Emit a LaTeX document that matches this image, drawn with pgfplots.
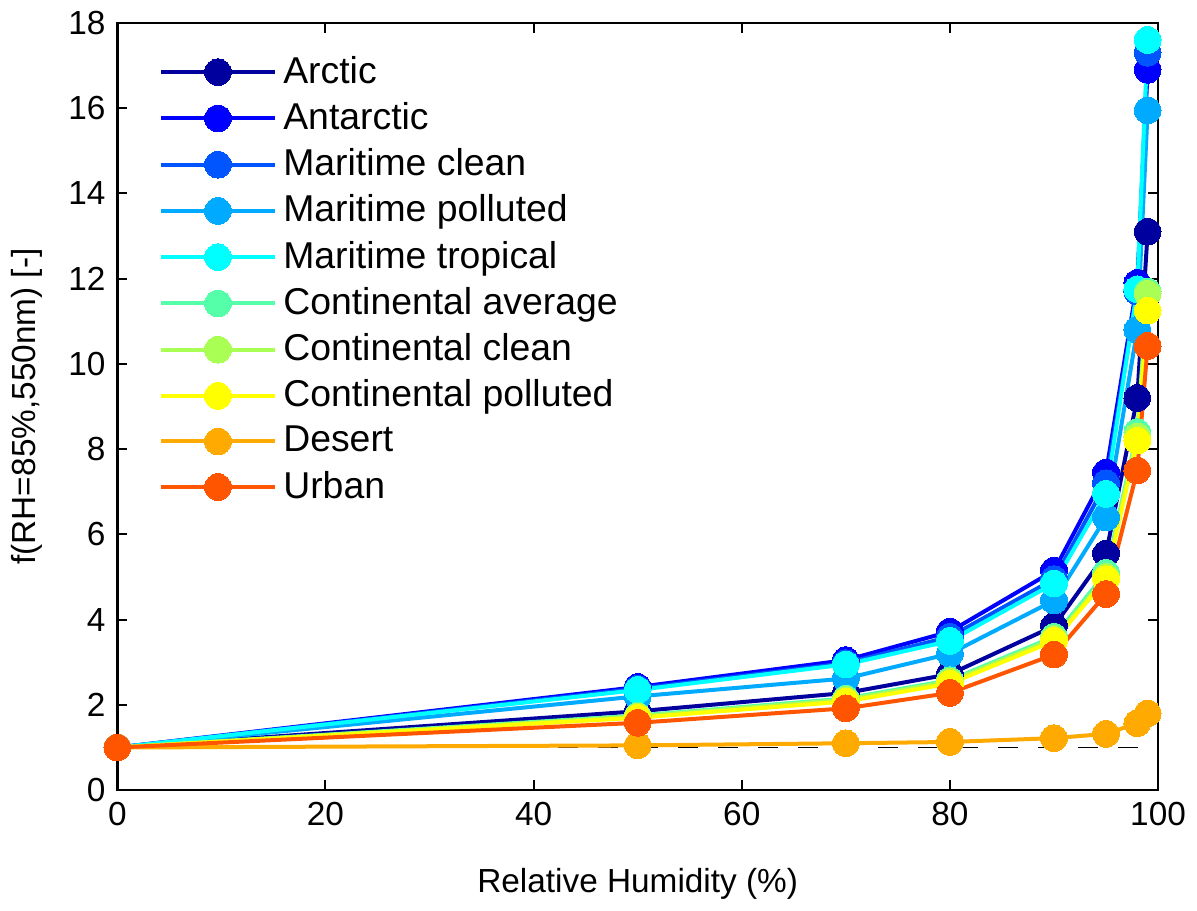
\documentclass[border=0pt]{standalone}
\usepackage{fontspec}
\setmainfont{Liberation Sans}
\usepackage{pgfplots}
\pgfplotsset{compat=1.18}
\definecolor{c1}{rgb}{0,0,0.62}
\definecolor{c2}{rgb}{0,0,1}
\definecolor{c3}{rgb}{0,0.3333,1}
\definecolor{c4}{rgb}{0,0.6667,1}
\definecolor{c5}{rgb}{0,1,1}
\definecolor{c6}{rgb}{0.3333,1,0.6667}
\definecolor{c7}{rgb}{0.6667,1,0.3333}
\definecolor{c8}{rgb}{1,1,0}
\definecolor{c9}{rgb}{1,0.6667,0}
\definecolor{c10}{rgb}{1,0.3333,0}
\begin{document}
\begin{tikzpicture}
\begin{axis}[
  scale only axis,
  width=312pt, height=230pt,
  xmin=0, xmax=100, ymin=0, ymax=18,
  xtick={0,20,...,100}, ytick={0,2,...,18},
  tick align=inside,
  major tick length=3pt,
  axis line style={line width=0.7pt},
  every tick/.style={black, line width=0.6pt},
  /pgf/number format/assume math mode=true,
  tick label style={font=\fontsize{10}{12}\selectfont},
  label style={font=\fontsize{10}{12}\selectfont},
  xlabel={Relative Humidity (\%)},
  ylabel={f(RH=85\%,550nm) [-]},
  xlabel style={yshift=-6pt},
  ylabel style={yshift=1pt},
  legend style={draw=none, fill=none, at={(0.03,0.975)}, anchor=north west,
    font=\fontsize{11.2}{13}\selectfont, row sep=0.25pt,
    /tikz/every even column/.append style={column sep=0pt}},
  legend cell align=left,
  legend image code/.code={%
    \draw[#1, mark repeat=2, mark phase=2] plot coordinates {(0pt,0pt) (17pt,0pt) (34pt,0pt)};},
  every axis plot/.append style={line width=1.2pt, mark=*, mark size=4pt},
]
\addplot[black, dashed, line width=0.5pt, mark=none, dash pattern=on 6pt off 6pt, forget plot] coordinates {(0,1) (98.5,1)};
\addplot[c1, mark options={fill=c1, draw=c1, line width=0pt}] coordinates {(0,1) (50,1.85) (70,2.28) (80,2.72) (90,3.85) (95,5.55) (98,9.2) (99,13.1)};
\addlegendentry{Arctic}
\addplot[c2, mark options={fill=c2, draw=c2, line width=0pt}] coordinates {(0,1) (50,2.42) (70,3.05) (80,3.72) (90,5.15) (95,7.45) (98,11.9) (99,16.9)};
\addlegendentry{Antarctic}
\addplot[c3, mark options={fill=c3, draw=c3, line width=0pt}] coordinates {(0,1) (50,2.38) (70,2.98) (80,3.6) (90,4.95) (95,7.2) (98,11.7) (99,17.3)};
\addlegendentry{Maritime clean}
\addplot[c4, mark options={fill=c4, draw=c4, line width=0pt}] coordinates {(0,1) (50,2.2) (70,2.62) (80,3.2) (90,4.45) (95,6.4) (98,10.8) (99,15.95)};
\addlegendentry{Maritime polluted}
\addplot[c5, mark options={fill=c5, draw=c5, line width=0pt}] coordinates {(0,1) (50,2.35) (70,2.95) (80,3.5) (90,4.85) (95,6.95) (98,11.75) (99,17.6)};
\addlegendentry{Maritime tropical}
\addplot[c6, mark options={fill=c6, draw=c6, line width=0pt}] coordinates {(0,1) (50,1.75) (70,2.15) (80,2.58) (90,3.6) (95,5.1) (98,8.4) (99,11.7)};
\addlegendentry{Continental average}
\addplot[c7, mark options={fill=c7, draw=c7, line width=0pt}] coordinates {(0,1) (50,1.73) (70,2.12) (80,2.55) (90,3.55) (95,5.0) (98,8.3) (99,11.65)};
\addlegendentry{Continental clean}
\addplot[c8, mark options={fill=c8, draw=c8, line width=0pt}] coordinates {(0,1) (50,1.7) (70,2.08) (80,2.5) (90,3.5) (95,4.95) (98,8.2) (99,11.25)};
\addlegendentry{Continental polluted}
\addplot[c9, mark options={fill=c9, draw=c9, line width=0pt}] coordinates {(0,1) (50,1.05) (70,1.1) (80,1.13) (90,1.22) (95,1.32) (98,1.57) (99,1.8)};
\addlegendentry{Desert}
\addplot[c10, mark options={fill=c10, draw=c10, line width=0pt}] coordinates {(0,1) (50,1.58) (70,1.92) (80,2.28) (90,3.18) (95,4.6) (98,7.5) (99,10.42)};
\addlegendentry{Urban}
\end{axis}
\end{tikzpicture}
\end{document}
